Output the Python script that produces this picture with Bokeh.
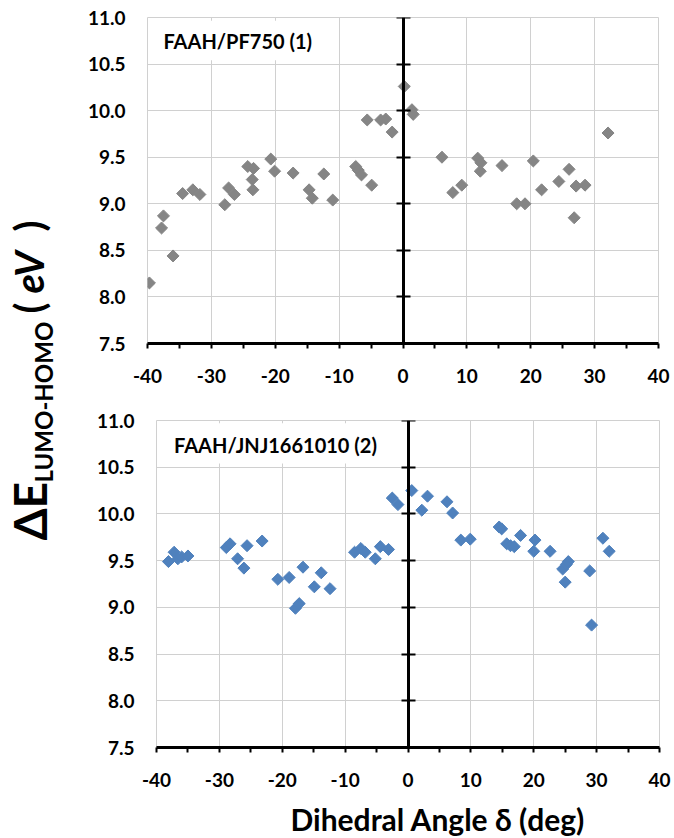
import numpy as np
from bokeh.plotting import figure
from bokeh.layouts import row, column
from bokeh.models import (Range1d, FixedTicker, LinearAxis, BoxAnnotation, Label,
                          CustomJSTickFormatter, NumeralTickFormatter, Spacer)
from bokeh.embed import file_html
from bokeh.resources import INLINE

# ---------------- data ----------------
top_x = [-39.7, -37.8, -37.5, -36.0, -34.5, -32.9, -31.8, -27.9, -27.3, -26.4,
         -24.3, -23.4, -23.6, -23.5, -20.7, -20.1, -17.2, -14.7, -14.2, -12.4,
         -11.0, -7.4, -7.0, -6.5, -4.9, -5.6, -3.5, -2.7, -1.7, 0.2,
         1.4, 1.6, 6.1, 7.8, 9.2, 11.7, 12.2, 12.1, 15.5, 17.8,
         19.1, 20.4, 21.7, 24.4, 26.0, 27.1, 28.5, 26.8, 32.1]
top_y = [8.15, 8.74, 8.87, 8.44, 9.11, 9.15, 9.10, 8.99, 9.17, 9.10,
         9.40, 9.38, 9.26, 9.15, 9.48, 9.35, 9.33, 9.15, 9.06, 9.32,
         9.04, 9.40, 9.36, 9.31, 9.20, 9.90, 9.90, 9.91, 9.77, 10.26,
         10.01, 9.96, 9.50, 9.12, 9.20, 9.49, 9.44, 9.35, 9.41, 9.00,
         9.00, 9.46, 9.15, 9.24, 9.37, 9.19, 9.20, 8.85, 9.76]

bot_x = [-38.1, -37.2, -36.6, -36.0, -35.0, -28.9, -28.3, -27.1, -26.1, -25.6,
         -23.2, -20.7, -18.9, -17.9, -17.3, -16.7, -14.9, -13.8, -12.4, -8.5,
         -7.5, -6.8, -5.2, -4.4, -3.1, -2.5, -1.6, 0.6, 2.2, 3.1,
         6.2, 7.1, 8.4, 9.9, 14.5, 14.9, 15.7, 16.3, 16.9, 17.9,
         20.2, 20.0, 22.6, 24.6, 25.2, 25.5, 25.0, 28.9, 29.2, 31.0, 32.0]
bot_y = [9.49, 9.59, 9.52, 9.54, 9.55, 9.64, 9.68, 9.52, 9.42, 9.66,
         9.71, 9.30, 9.32, 8.99, 9.04, 9.43, 9.22, 9.37, 9.20, 9.59,
         9.63, 9.59, 9.52, 9.65, 9.62, 10.17, 10.10, 10.25, 10.04, 10.19,
         10.13, 10.01, 9.72, 9.73, 9.86, 9.84, 9.68, 9.66, 9.65, 9.77,
         9.72, 9.60, 9.60, 9.41, 9.46, 9.49, 9.27, 9.39, 8.81, 9.74, 9.60]

x_ticks = [-40, -30, -20, -10, 0, 10, 20, 30, 40]
x_minor = [-35, -25, -15, -5, 5, 15, 25, 35]
y_ticks = [7.5, 8.0, 8.5, 9.0, 9.5, 10.0, 10.5, 11.0]

top_title = "FAAH/PF750 (1)"
bot_title = "FAAH/JNJ1661010 (2)"
x_title = "Dihedral Angle δ (deg)"

FONT = "Lato"
GRID = "#d0d0d0"


def make_panel(xs, ys, color, title, width, height, bl, br, bt, bb,
               box, title_pos):
    p = figure(width=width, height=height, x_range=Range1d(-40, 40),
               y_range=Range1d(7.5, 11.0), output_backend="svg",
               toolbar_location=None, min_border_left=bl, min_border_right=br,
               min_border_top=bt, min_border_bottom=bb, title=None)
    p.outline_line_color = GRID
    p.outline_line_width = 1
    p.background_fill_color = "white"
    p.border_fill_color = "white"

    # bottom axis
    xa = p.xaxis[0]
    xa.ticker = FixedTicker(ticks=x_ticks, minor_ticks=x_minor)
    xa.formatter = NumeralTickFormatter(format="0")
    xa.axis_line_width = 3
    xa.axis_line_color = "black"
    xa.major_tick_in = 0
    xa.major_tick_out = 5
    xa.minor_tick_in = 0
    xa.minor_tick_out = 5
    xa.major_tick_line_width = 2
    xa.minor_tick_line_width = 2
    xa.major_label_text_font = FONT
    xa.major_label_text_font_style = "bold"
    xa.major_label_text_font_size = "19px"
    xa.major_label_text_color = "black"
    xa.major_label_standoff = 20

    # left axis: labels only
    ya = p.yaxis[0]
    ya.ticker = FixedTicker(ticks=y_ticks)
    ya.formatter = NumeralTickFormatter(format="0.0")
    ya.axis_line_color = None
    ya.major_tick_line_color = None
    ya.minor_tick_line_color = None
    ya.major_tick_out = 0
    ya.major_tick_in = 0
    ya.major_label_standoff = 22
    ya.major_label_text_font = FONT
    ya.major_label_text_font_style = "bold"
    ya.major_label_text_font_size = "19px"
    ya.major_label_text_color = "black"

    p.xgrid.ticker = FixedTicker(ticks=x_ticks)
    p.ygrid.ticker = FixedTicker(ticks=y_ticks)
    p.xgrid.grid_line_color = GRID
    p.ygrid.grid_line_color = GRID
    p.xgrid.grid_line_width = 1
    p.ygrid.grid_line_width = 1

    # vertical axis crossing at x = 0
    va = LinearAxis(fixed_location=0, ticker=FixedTicker(ticks=y_ticks),
                    formatter=CustomJSTickFormatter(code="return ''"))
    va.axis_line_width = 3
    va.axis_line_color = "black"
    va.major_tick_in = 7
    va.major_tick_out = 7
    va.major_tick_line_width = 2
    va.minor_tick_line_color = None
    va.major_label_text_font_size = "1px"
    p.add_layout(va, "left")

    p.scatter(xs, ys, marker="square", angle=np.pi / 4, size=8.5,
              fill_color=color, line_color=color)

    p.add_layout(BoxAnnotation(left=box[0], right=box[1], bottom=box[2],
                               top=box[3], fill_color="white", fill_alpha=1.0,
                               line_color=None))
    p.add_layout(Label(x=title_pos[0], y=title_pos[1], text=title,
                       text_font=FONT, text_font_style="bold",
                       text_font_size="20px", text_color="black",
                       text_align="left", text_baseline="alphabetic"))
    return p


top = make_panel(top_x, top_y, "#858585", top_title, 609, 400, 83, 15, 17, 57,
                 (-39.85, -11.3, 10.54, 10.965), (-37.5, 10.745))
bot = make_panel(bot_x, bot_y, "#4f81bd", bot_title, 600, 398, 83, 14, 20, 51,
                 (-39.85, -3.0, 10.54, 10.97), (-37.2, 10.736))

# y-axis title panel (coordinates equal pixels)
LH = 798
lab = figure(width=64, height=LH, x_range=Range1d(0, 64), y_range=Range1d(0, LH),
             output_backend="svg", toolbar_location=None, min_border=0,
             x_axis_type=None, y_axis_type=None, title=None)
lab.outline_line_color = None
lab.xgrid.visible = False
lab.ygrid.visible = False
common = dict(angle=90, angle_units="deg", text_font=FONT, text_color="black",
              text_align="left", text_baseline="alphabetic")
lab.add_layout(Label(x=29, y=LH - 540, text="ΔE", text_font_size="46px",
                     text_font_style="bold", **common))
lab.add_layout(Label(x=43, y=LH - 482, text="LUMO-HOMO", text_font_size="24px",
                     text_font_style="bold", **common))
lab.add_layout(Label(x=28, y=LH - 313, text="(", text_font_size="40px",
                     text_font_style="bold", **common))
lab.add_layout(Label(x=28, y=LH - 293, text="eV", text_font_size="40px",
                     text_font_style="bold italic", **common))
lab.add_layout(Label(x=28, y=LH - 231, text=")", text_font_size="40px",
                     text_font_style="bold", **common))

# x-axis title panel (coordinates equal pixels)
XW, XH = 674, 40
xl = figure(width=XW, height=XH, x_range=Range1d(0, XW), y_range=Range1d(0, XH),
            output_backend="svg", toolbar_location=None, min_border=0,
            x_axis_type=None, y_axis_type=None, title=None)
xl.outline_line_color = None
xl.xgrid.visible = False
xl.ygrid.visible = False
xl.add_layout(Label(x=437, y=20, text=x_title, text_font=FONT,
                    text_font_style="bold", text_font_size="30px",
                    text_color="black", text_align="center",
                    text_baseline="alphabetic"))

layout = column(row(lab, column(top, row(Spacer(width=9, height=398), bot))), xl)

open("out.html", "w").write(file_html(layout, INLINE))
